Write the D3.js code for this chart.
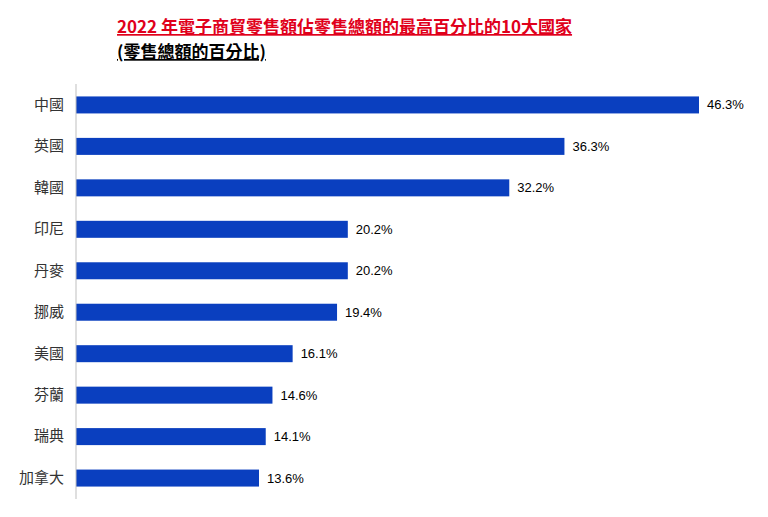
<!DOCTYPE html>
<html><head><meta charset="utf-8">
<script src="https://cdn.jsdelivr.net/npm/d3@7"></script>
<style>body{margin:0;background:#fff}</style>
</head><body><div id="chart"></div>
<script>
// data
const countries = ["中國", "英國", "韓國", "印尼", "丹麥", "挪威", "美國", "芬蘭", "瑞典", "加拿大"];
const shares = [46.3, 36.3, 32.2, 20.2, 20.2, 19.4, 16.1, 14.6, 14.1, 13.6];
const title = "2022 年電子商貿零售額佔零售總額的最高百分比的10大國家";
const subtitle = "(零售總額的百分比)";

const data = countries.map((c, i) => ({ name: c, value: shares[i] }));
const font = "'Noto Sans CJK TC', 'Liberation Sans', sans-serif";

const svg = d3.select("#chart").append("svg")
    .attr("width", 768).attr("height", 517);

svg.append("text")
    .attr("x", 117).attr("y", 33)
    .attr("font-family", font).attr("font-size", 17).attr("font-weight", "bold")
    .attr("fill", "#e0001b").attr("text-decoration", "underline")
    .text(title);

svg.append("text")
    .attr("x", 117).attr("y", 58)
    .attr("font-family", font).attr("font-size", 17).attr("font-weight", "bold")
    .attr("fill", "#000").attr("text-decoration", "underline")
    .text(subtitle);

const x = d3.scaleLinear().domain([0, 46.3]).range([76, 699]);
const y = d3.scaleBand().domain(countries).range([84, 499]).paddingInner(0.59).paddingOuter(0.3);

svg.selectAll("rect")
    .data(data)
    .enter()
    .append("rect")
    .attr("x", x(0))
    .attr("y", d => y(d.name))
    .attr("width", d => x(d.value) - x(0))
    .attr("height", y.bandwidth())
    .attr("fill", "#0a3fbf");

svg.selectAll(".val")
    .data(data)
    .enter()
    .append("text")
    .attr("class", "val")
    .attr("x", d => x(d.value) + 8)
    .attr("y", d => y(d.name) + y.bandwidth() / 2)
    .attr("dy", "0.35em")
    .attr("font-family", "'Liberation Sans', sans-serif").attr("font-size", 13)
    .text(d => d.value.toFixed(1) + "%");

const axis = svg.append("g")
    .attr("transform", "translate(76,0)")
    .call(d3.axisLeft(y).tickSize(0).tickPadding(12));
axis.select(".domain").attr("stroke", "#bfbfbf").attr("d", "M0,84V499");
axis.selectAll("text").attr("font-family", font).attr("font-size", 15).attr("fill", "#333");
</script>
</body></html>
